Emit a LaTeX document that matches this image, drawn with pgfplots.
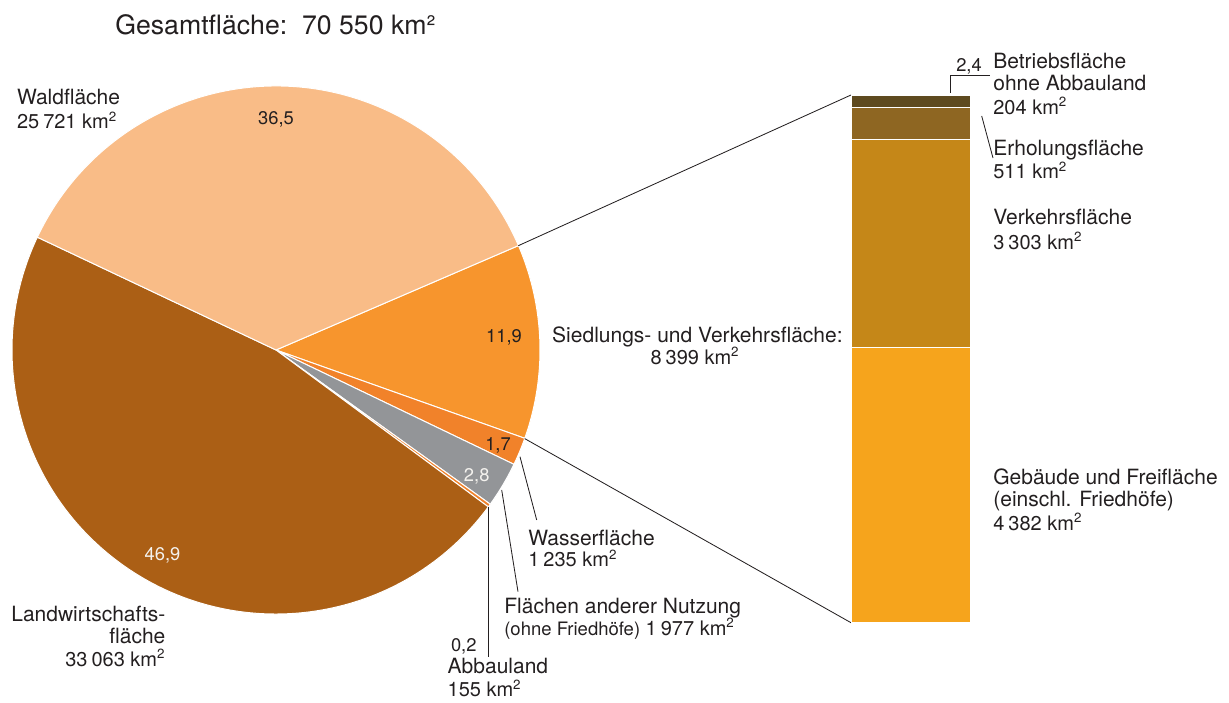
\documentclass[border=0pt]{standalone}
\usepackage{fontspec}
\setmainfont{TeX Gyre Heros}
\usepackage{pgfplots}
\pgfplotsset{compat=1.18}
\usetikzlibrary{calc}
\definecolor{cWald}{HTML}{F9BC87}
\definecolor{cSied}{HTML}{F7952D}
\definecolor{cWass}{HTML}{F1822A}
\definecolor{cAnd}{HTML}{939598}
\definecolor{cAbb}{HTML}{F1822A}
\definecolor{cLand}{HTML}{AB5F15}
\definecolor{cBetr}{HTML}{5E4A1F}
\definecolor{cErh}{HTML}{8E6622}
\definecolor{cVerk}{HTML}{C58718}
\definecolor{cGeb}{HTML}{F6A41C}
\definecolor{tc}{HTML}{231F20}
\definecolor{wt}{HTML}{F4F2EE}
\newcommand{\lab}{\fontsize{12.6}{15}\selectfont}
\newcommand{\qlab}{\fontsize{12}{14}\selectfont}
\newcommand{\sml}{\fontsize{11.1}{13}\selectfont}
\newcommand{\num}{\fontsize{11}{13}\selectfont}
\newcommand{\ts}{\hspace{0.2em}}
\newcommand{\kmq}{km\textsuperscript{2}}
% pie slice: cumulative start %, cumulative end %, colour (clockwise from 23.3 deg)
\newcommand{\slice}[3]{%
  \fill[overlay, #3, draw=white, line width=0.6pt] (axis cs:276,350) -- ++({23.3-3.6*#1}:158.4pt)
    arc[start angle={23.3-3.6*#1}, end angle={23.3-3.6*#2}, radius=158.4pt] -- cycle;}
\tikzset{
  lw/.style={anchor=base west, inner sep=0pt, text=tc, font=\lab},
  le/.style={anchor=base east, inner sep=0pt, text=tc, font=\lab},
  qw/.style={anchor=base west, inner sep=0pt, text=tc, font=\qlab},
  qe/.style={anchor=base east, inner sep=0pt, text=tc, font=\qlab},
  qb/.style={anchor=base, inner sep=0pt, text=tc, font=\qlab},
  nb/.style={anchor=base, inner sep=0pt, text=tc, font=\num},
}
\begin{document}
\begin{tikzpicture}
\begin{axis}[name=main, hide axis, x=0.6pt, y=0.6pt, xmin=0, xmax=1229, ymin=0, ymax=702,
  y dir=reverse, clip=false]
\addplot[draw=none] coordinates {(0,0) (1229,702)};
% pie: Siedlung 11.9, Wasser 1.7, andere 2.8, Abbau 0.2, Landwirtschaft 46.9, Wald 36.5
\slice{0}{11.9}{cSied}
\slice{11.9}{13.6}{cWass}
\slice{13.6}{16.4}{cAnd}
\slice{16.4}{16.6}{cAbb}
\slice{16.6}{63.5}{cLand}
\slice{63.5}{100}{cWald}
% leader lines
\addplot[tc, line width=0.5pt] coordinates {(518.3,245.7) (851,95)};
\addplot[tc, line width=0.5pt] coordinates {(524.7,438.6) (851,622.7)};
\addplot[tc, line width=0.5pt] coordinates {(520,456.7) (536.7,520)};
\addplot[tc, line width=0.5pt] coordinates {(501.7,490) (518,591.7)};
\addplot[tc, line width=0.5pt] coordinates {(488.3,506.7) (488.3,656.7)};
\addplot[tc, line width=0.5pt] coordinates {(950.7,93) (950.7,75.7) (990,75.7)};
\addplot[tc, line width=0.5pt] coordinates {(981.7,116) (993,158)};
% title
\node[anchor=base west, inner sep=0pt, text=tc, font=\fontsize{16}{19}\selectfont] at (axis cs:115,35) {Gesamtfläche:\ \ 70 550 km²};
% pie labels
\node[lw] at (axis cs:16.7,105) {Waldfläche};
\node[qw] at (axis cs:16.7,128.3) {25\ts721 \kmq};
\node[nb] at (axis cs:276,124) {36,5};
\node[nb] at (axis cs:504,342) {11,9};
\node[nb] at (axis cs:498,450) {1,7};
\node[nb, text=wt] at (axis cs:476.7,481.7) {2,8};
\node[nb, text=wt] at (axis cs:162.5,560.7) {46,9};
\node[le] at (axis cs:165.7,621.7) {Landwirtschafts-};
\node[le] at (axis cs:165.7,643.7) {fläche};
\node[qe] at (axis cs:165.7,666) {33\ts063 \kmq};
\node[qw, font=\num] at (axis cs:450.7,651.7) {0,2};
\node[lw] at (axis cs:447.3,673.3) {Abbauland};
\node[qw] at (axis cs:447.3,696.7) {155 \kmq};
\node[lw] at (axis cs:504,613.3) {Flächen anderer Nutzung};
\node[qw] at (axis cs:504,635) {{\sml(ohne Friedhöfe)} 1\ts977 \kmq};
\node[lw] at (axis cs:528,545) {Wasserfläche};
\node[qw] at (axis cs:528,566.7) {1\ts235 \kmq};
\node[le] at (axis cs:843,342) {Siedlungs- und Verkehrsfläche:};
\node[qb] at (axis cs:695,364) {8\ts399 \kmq};
% bar labels
\node[nb] at (axis cs:969,71.7) {2,4};
\node[lw] at (axis cs:993,68.3) {Betriebsfläche};
\node[lw] at (axis cs:993,91) {ohne Abbauland};
\node[qw] at (axis cs:993,114) {204 \kmq};
\node[lw] at (axis cs:993,155) {Erholungsfläche};
\node[qw] at (axis cs:993,178.3) {511 \kmq};
\node[lw] at (axis cs:993,224.3) {Verkehrsfläche};
\node[qw] at (axis cs:993,249) {3\ts303 \kmq};
\node[lw] at (axis cs:993,484) {Gebäude und Freifläche};
\node[lw] at (axis cs:993,506) {(einschl. Friedhöfe)};
\node[qw] at (axis cs:993,530) {4\ts382 \kmq};
\end{axis}
\begin{axis}[name=bar, at={($(main.south west)+(510.6pt,47.58pt)$)}, anchor=south west,
  scale only axis, width=71.8pt, height=316.6pt, hide axis,
  ybar stacked, bar width=71.8pt, xmin=-0.5, xmax=0.5, ymin=0, ymax=100,
  enlargelimits=false, clip=false]
\addplot[fill=cGeb, draw=white, line width=0.6pt] coordinates {(0,52.2)};
\addplot[fill=cVerk, draw=white, line width=0.6pt] coordinates {(0,39.3)};
\addplot[fill=cErh, draw=white, line width=0.6pt] coordinates {(0,6.1)};
\addplot[fill=cBetr, draw=white, line width=0.6pt] coordinates {(0,2.4)};
\node[text=tc, font=\num, inner sep=0pt] at (axis cs:0,26.1) {52,2};
\node[text=tc, font=\num, inner sep=0pt] at (axis cs:0,71.85) {39,3};
\node[text=wt, font=\num, inner sep=0pt] at (axis cs:0,94.55) {6,1};
\end{axis}
\end{tikzpicture}
\end{document}
